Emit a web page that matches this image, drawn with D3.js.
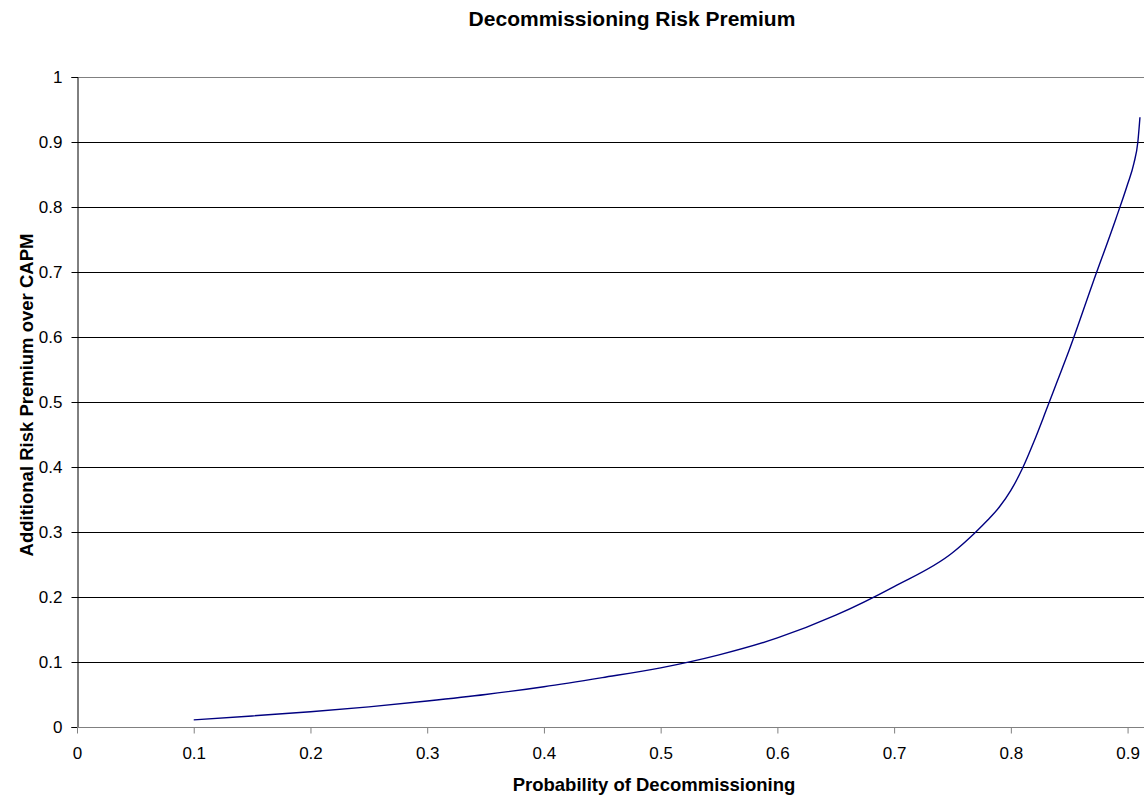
<!DOCTYPE html>
<html>
<head>
<meta charset="utf-8">
<script src="https://cdn.jsdelivr.net/npm/d3@7"></script>
<style>
  html, body { margin: 0; padding: 0; background: #fff; }
  svg { display: block; font-family: "Liberation Sans", Arial, sans-serif; }
</style>
</head>
<body>
<svg id="chart" width="1144" height="795"></svg>
<script>
// Probability of decommissioning (x) and the additional risk premium over CAPM (y)
const probability = [0.10, 0.15, 0.20, 0.25, 0.30, 0.35, 0.40, 0.45, 0.50, 0.55,
                     0.60, 0.65, 0.70, 0.75, 0.77, 0.78, 0.79, 0.80, 0.81, 0.82,
                     0.83, 0.84, 0.85, 0.87, 0.89, 0.90, 0.9054, 0.9088, 0.9106];
const premium = [0.011, 0.017, 0.0235, 0.031, 0.040, 0.050, 0.062, 0.076, 0.091, 0.111,
                 0.137, 0.172, 0.216, 0.268, 0.300, 0.318, 0.338, 0.364, 0.398, 0.440,
                 0.486, 0.533, 0.580, 0.682, 0.782, 0.835, 0.867, 0.900, 0.938];
const xTicks = [0, 0.1, 0.2, 0.3, 0.4, 0.5, 0.6, 0.7, 0.8, 0.9];
const yTicks = [0, 0.1, 0.2, 0.3, 0.4, 0.5, 0.6, 0.7, 0.8, 0.9, 1];

const svg = d3.select("#chart");
const plotLeft = 77, plotRight = 1141, plotTop = 77, plotBottom = 727;

const x = d3.scaleLinear().domain([0, 0.9115]).range([plotLeft, plotRight]);
const y = d3.scaleLinear().domain([0, 1]).range([plotBottom, plotTop]);

// Horizontal gridlines
svg.append("g")
  .selectAll("line")
  .data(yTicks.filter(d => d > 0 && d < 1))
  .join("line")
  .attr("x1", plotLeft).attr("x2", 1144)
  .attr("y1", d => Math.round(y(d)) + 0.5).attr("y2", d => Math.round(y(d)) + 0.5)
  .attr("stroke", "#000").attr("stroke-width", 1);

// Top border of the plot area
svg.append("line")
  .attr("x1", plotLeft).attr("x2", 1144)
  .attr("y1", plotTop + 0.5).attr("y2", plotTop + 0.5)
  .attr("stroke", "#808080");

// Y axis
const yAxis = svg.append("g")
  .attr("transform", `translate(${plotLeft + 0.5},0)`)
  .call(d3.axisLeft(y).tickValues(yTicks).tickFormat(d3.format("")).tickSize(6).tickPadding(9))
  .call(g => g.select(".domain").attr("stroke", "#000"))
  .call(g => g.selectAll(".tick line").attr("stroke", "#000"));
yAxis.selectAll("text")
  .attr("font-size", 17).attr("fill", "#000")
  .style("font-family", "'Liberation Sans', Arial, sans-serif");

// X axis
const xAxis = svg.append("g")
  .attr("transform", `translate(0,${plotBottom + 0.5})`)
  .call(d3.axisBottom(x).tickValues(xTicks).tickFormat(d3.format("")).tickSize(6).tickPadding(13))
  .call(g => g.select(".domain").attr("stroke", "#808080").attr("d", `M${plotLeft},0H1144`))
  .call(g => g.selectAll(".tick line").attr("stroke", "#808080"));
xAxis.selectAll("text")
  .attr("font-size", 17).attr("fill", "#000")
  .style("font-family", "'Liberation Sans', Arial, sans-serif");

// Premium curve
const line = d3.line()
  .x((d, i) => x(probability[i]))
  .y(d => y(d))
  .curve(d3.curveMonotoneX);
svg.append("path")
  .datum(premium)
  .attr("d", line)
  .attr("fill", "none")
  .attr("stroke", "#000080")
  .attr("stroke-width", 1.4);

// Titles
svg.append("text")
  .attr("x", 632).attr("y", 26)
  .attr("text-anchor", "middle")
  .attr("font-size", 21).attr("font-weight", "bold")
  .text("Decommissioning Risk Premium");

svg.append("text")
  .attr("x", 654).attr("y", 791)
  .attr("text-anchor", "middle")
  .attr("font-size", 18.5).attr("font-weight", "bold")
  .text("Probability of Decommissioning");

svg.append("text")
  .attr("transform", "translate(33,395) rotate(-90)")
  .attr("text-anchor", "middle")
  .attr("font-size", 18.5).attr("font-weight", "bold")
  .text("Additional Risk Premium over CAPM");
</script>
</body>
</html>
